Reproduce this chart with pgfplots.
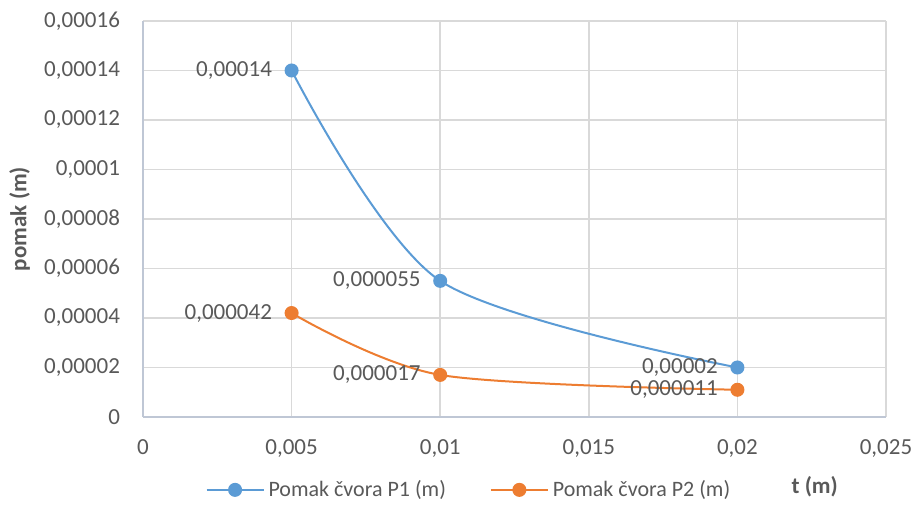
\documentclass[border=0pt]{standalone}
\usepackage{fontspec}
\setmainfont{Carlito}
\usepackage{pgfplots}
\pgfplotsset{compat=1.18}
\definecolor{txt}{HTML}{595959}
\definecolor{gridc}{HTML}{D9D9D9}
\definecolor{axc}{HTML}{BFC7D5}
\definecolor{p1}{HTML}{5B9BD5}
\definecolor{p2}{HTML}{ED7D31}
\begin{document}
\begin{tikzpicture}
\begin{axis}[
  at={(0,0)}, anchor=south west,
  scale only axis, width=371.5pt, height=198pt,
  xmin=0, xmax=0.025, ymin=0, ymax=0.00016,
  xtick={0,0.005,0.01,0.015,0.02,0.025},
  xticklabels={0,{0,005},{0,01},{0,015},{0,02},{0,025}},
  ytick={0,0.00002,0.00004,0.00006,0.00008,0.0001,0.00012,0.00014,0.00016},
  yticklabels={0,{0,00002},{0,00004},{0,00006},{0,00008},{0,0001},{0,00012},{0,00014},{0,00016}},
  scaled x ticks=false, scaled y ticks=false,
  major tick length=0pt,
  ymajorgrids, xmajorgrids,
  grid style={gridc, line width=0.8pt},
  axis lines=left, axis line style={-, axc, line width=0.9pt},
  tick label style={font=\fontsize{11.5}{13}\selectfont, text=txt},
  xticklabel style={yshift=-8pt},
  yticklabel style={xshift=-8pt},
  xlabel={\textbf{t (m)}}, ylabel={\textbf{pomak (m)}},
  label style={font=\fontsize{11.5}{13}\selectfont, text=txt},
  xlabel style={at={(axis description cs:0.904,-0.177)}, anchor=center},
  ylabel style={at={(axis description cs:-0.166,0.5)}, anchor=center},
  legend style={at={(axis description cs:0.44,-0.184)}, anchor=center, draw=none,
    font=\fontsize{11}{13}\selectfont, text=txt, legend columns=2,
    /tikz/every even column/.append style={column sep=20pt}},
  legend image code/.code={\draw[mark repeat=2,mark phase=2] plot coordinates {(0cm,0cm)(0.5cm,0cm)(1cm,0cm)};},
  nodes near coords, point meta=explicit symbolic,
  nodes near coords style={anchor=east, xshift=-6pt, yshift=0pt, font=\fontsize{11.5}{13}\selectfont, text=txt},
]
\addplot[p1, line width=1pt, smooth, tension=0.5, mark=*, mark size=3pt, mark options={fill=p1, draw=p1}]
  coordinates {(0.005,0.00014) [{0,00014}] (0.01,0.000055) [{0,000055}] (0.02,0.00002) [{0,00002}]};
\addlegendentry{Pomak čvora P1 (m)}
\addplot[p2, line width=1pt, smooth, tension=0.5, mark=*, mark size=3pt, mark options={fill=p2, draw=p2}]
  coordinates {(0.005,0.000042) [{0,000042}] (0.01,0.000017) [{0,000017}] (0.02,0.000011) [{0,000011}]};
\addlegendentry{Pomak čvora P2 (m)}
\end{axis}
\pgfresetboundingbox
\path[use as bounding box] (-71.5pt,-50pt) rectangle (386pt,208.5pt);
\end{tikzpicture}
\end{document}
